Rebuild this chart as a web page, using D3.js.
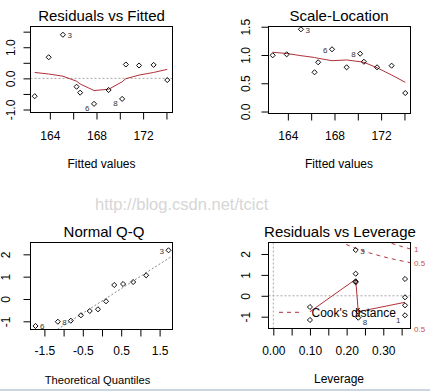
<!DOCTYPE html>
<html><head><meta charset="utf-8">
<script src="https://cdn.jsdelivr.net/npm/d3@7"></script>
<style>
body{margin:0;background:#fff}
svg{display:block}
text{font-family:"Liberation Sans",Arial,sans-serif}
</style>
</head><body>
<svg id="c" width="430" height="391"></svg>
<script>
// ---------- data ----------
const fitted        = [162.70, 163.90, 165.12, 166.29, 166.60, 167.79, 169.04, 170.20, 170.52, 171.65, 172.90, 174.07];
const residuals     = [-0.573, 0.678, 1.401, -0.268, -0.459, -0.818, -0.373, -0.659, 0.446, 0.414, 0.433, -0.054];
const residSmooth   = [0.19, 0.14, 0.07, -0.09, -0.18, -0.39, -0.35, -0.11, -0.01, 0.105, 0.19, 0.29];
const sqrtStdResid  = [0.995, 1.012, 1.455, 0.694, 0.871, 1.101, 0.782, 1.023, 0.881, 0.782, 0.811, 0.327];
const scaleSmooth   = [1.048, 1.027, 0.988, 0.956, 0.942, 0.899, 0.912, 0.881, 0.871, 0.775, 0.646, 0.517];
const fittedIds     = ["", "", "3", "", "", "6", "", "8", "", "", "", ""];

const theoQuantiles = [-1.732, -1.150, -0.812, -0.549, -0.319, -0.105, 0.105, 0.319, 0.549, 0.812, 1.150, 1.732];
const sortedStdRes  = [-1.209, -1.017, -0.972, -0.730, -0.537, -0.461, -0.103, 0.627, 0.672, 0.761, 1.061, 2.181];
const qqIds         = ["6", "8", "", "", "", "", "", "", "", "", "", "3"];
const qqLine        = {intercept: -0.087, slope: 1.10};

const leverage      = [0.100, 0.100, 0.2247, 0.2247, 0.2247, 0.2247, 0.2318, 0.2318, 0.3592, 0.3592, 0.3592, 0.3592];
const levStdResid   = [-0.536, -1.158, 2.191, 1.057, 0.646, 0.690, -0.761, -1.048, 0.804, -0.072, -0.455, -0.933];
const levIds        = ["", "", "3", "", "", "", "", "8", "", "", "", "1"];
const levSmoothX    = [0.100, 0.2247, 0.2318, 0.3592];
const levSmoothY    = [-0.761, 0.789, -0.761, -0.311];
const cookLevels    = [0.5, 1];
const nCoef         = 3;

const titles        = ["Residuals vs Fitted", "Scale-Location", "Normal Q-Q", "Residuals vs Leverage"];
const xTitles       = ["Fitted values", "Fitted values", "Theoretical Quantiles", "Leverage"];

const fittedTicks   = [164, 166, 168, 170, 172, 174];
const fittedLabels  = ["164", "", "168", "", "172", ""];
const residTicks    = [-1, -0.5, 0, 0.5, 1, 1.5];
const residLabels   = ["-1.0", "", "0.0", "", "1.0", ""];
const scaleTicks    = [0, 0.5, 1, 1.5];
const scaleLabels   = ["0.0", "0.5", "1.0", "1.5"];
const qqXTicks      = [-1.5, -1, -0.5, 0, 0.5, 1, 1.5];
const qqXLabels     = ["-1.5", "", "-0.5", "", "0.5", "", "1.5"];
const qqYTicks      = [-1, 0, 1, 2];
const qqYLabels     = ["-1", "0", "1", "2"];
const levXTicks     = [0, 0.05, 0.10, 0.15, 0.20, 0.25, 0.30, 0.35];
const levXLabels    = ["0.00", "", "0.10", "", "0.20", "", "0.30", ""];
const levYTicks     = [-1, 0, 1, 2];
const levYLabels    = ["-1", "0", "1", "2"];

// ---------- drawing ----------
const svg = d3.select("#c");
svg.append("rect").attr("width", 430).attr("height", 391).attr("fill", "#fff");
const RED = "#b03038";
const RED_TXT = "#d0504a";

function panel(cfg) {
  const b = cfg.box;
  const x = d3.scaleLinear().domain(cfg.xDomain).range([b.l, b.r]);
  const y = d3.scaleLinear().domain(cfg.yDomain).range([b.b, b.t]);
  const g = svg.append("g");
  svg.append("clipPath").attr("id", "cl" + cfg.name)
    .append("rect").attr("x", b.l).attr("y", b.t).attr("width", b.r - b.l).attr("height", b.b - b.t);
  const inner = g.append("g").attr("clip-path", `url(#cl${cfg.name})`);

  const xa = d3.axisBottom(x).tickValues(cfg.xTicks).tickFormat((d, i) => cfg.xLabels[i]).tickSize(7).tickSizeOuter(0);
  const gx = g.append("g").attr("transform", `translate(0,${b.b})`).call(xa);
  gx.select(".domain").remove();
  gx.attr("font-family", null).attr("font-size", null);
  gx.selectAll("line").attr("stroke", "#000");
  gx.selectAll("text").attr("y", cfg.xLabOff).attr("dy", 0).attr("fill", "#000").attr("font-size", 12);

  const ya = d3.axisLeft(y).tickValues(cfg.yTicks).tickFormat((d, i) => cfg.yLabels[i]).tickSize(7).tickSizeOuter(0);
  const gy = g.append("g").attr("transform", `translate(${b.l},0)`).call(ya);
  gy.select(".domain").remove();
  gy.attr("font-family", null).attr("font-size", null);
  gy.selectAll("line").attr("stroke", "#000");
  gy.selectAll("text").attr("transform", "rotate(-90)").attr("x", 0).attr("y", -cfg.yLabOff)
    .attr("dy", 0).attr("text-anchor", "middle").attr("fill", "#000").attr("font-size", 12);

  g.append("text").attr("x", cfg.titleX).attr("y", cfg.titleY).attr("text-anchor", "middle")
    .attr("font-size", 15).attr("fill", "#000").text(cfg.title);
  g.append("text").attr("x", cfg.xTitleX).attr("y", cfg.xTitleY).attr("text-anchor", "middle")
    .attr("font-size", cfg.xTitleSize || 12).attr("fill", "#000").text(cfg.xTitle);
  return {x, y, g, inner, b};
}

function frame(p) {
  p.g.append("rect").attr("x", p.b.l).attr("y", p.b.t).attr("width", p.b.r - p.b.l).attr("height", p.b.b - p.b.t)
    .attr("fill", "none").attr("stroke", "#000").attr("stroke-width", 1);
}

const diamond = d3.symbol().type(d3.symbolSquare).size(13);
function points(p, xs, ys) {
  p.g.append("g").selectAll("path").data(xs).join("path")
    .attr("d", diamond)
    .attr("transform", (d, i) => `translate(${p.x(d)},${p.y(ys[i])}) rotate(45)`)
    .attr("fill", "none").attr("stroke", "#000").attr("stroke-width", 0.9);
}

function idLabels(p, xs, ys, ids, sides, negShift) {
  ids.forEach((id, i) => {
    if (!id) return;
    const right = sides[id] === "R";
    const dy = (negShift && ys[i] < 0) ? 7.5 : 3.5;
    p.g.append("text").attr("x", p.x(xs[i]) + (right ? 4.5 : -4.5)).attr("y", p.y(ys[i]) + dy)
      .attr("text-anchor", right ? "start" : "end").attr("font-size", 8).attr("fill", "#333").text(id);
  });
}

function hline(p, v) {
  p.inner.append("line").attr("x1", p.b.l).attr("x2", p.b.r).attr("y1", p.y(v)).attr("y2", p.y(v))
    .attr("stroke", "#a8a8a8").attr("stroke-dasharray", "2,2");
}

// Panel 1
const p1 = panel({name: "a", box: {l: 30.5, r: 172.5, t: 26.5, b: 112.5},
  xDomain: [162.34, 174.52], yDomain: [-1.096, 1.666],
  xTicks: fittedTicks, xLabels: fittedLabels, yTicks: residTicks, yLabels: residLabels,
  xLabOff: 27.5, yLabOff: 15.7, title: titles[0], titleX: 101.5, titleY: 20.7,
  xTitle: xTitles[0], xTitleX: 101.5, xTitleY: 168});
hline(p1, 0);
p1.inner.append("path").datum(fitted).attr("fill", "none").attr("stroke", RED).attr("stroke-width", 1)
  .attr("d", d3.line().x(d => p1.x(d)).y((d, i) => p1.y(residSmooth[i])));
points(p1, fitted, residuals);
idLabels(p1, fitted, residuals, fittedIds, {"3": "R", "6": "L", "8": "L"}, true);
frame(p1);

// Panel 2
const p2 = panel({name: "b", box: {l: 268.5, r: 410.5, t: 26.5, b: 113.5},
  xDomain: [162.34, 174.52], yDomain: [-0.035, 1.504],
  xTicks: fittedTicks, xLabels: fittedLabels, yTicks: scaleTicks, yLabels: scaleLabels,
  xLabOff: 26.5, yLabOff: 18.5, title: titles[1], titleX: 339, titleY: 20.7,
  xTitle: xTitles[1], xTitleX: 339, xTitleY: 168});
p2.inner.append("path").datum(fitted).attr("fill", "none").attr("stroke", RED).attr("stroke-width", 1)
  .attr("d", d3.line().x(d => p2.x(d)).y((d, i) => p2.y(scaleSmooth[i])));
points(p2, fitted, sqrtStdResid);
idLabels(p2, fitted, sqrtStdResid, fittedIds, {"3": "R", "6": "L", "8": "L"}, false);
frame(p2);

// Panel 3
const p3 = panel({name: "c", box: {l: 30.5, r: 172.5, t: 242.5, b: 329.5},
  xDomain: [-1.862, 1.836], yDomain: [-1.366, 2.530],
  xTicks: qqXTicks, xLabels: qqXLabels, yTicks: qqYTicks, yLabels: qqYLabels,
  xLabOff: 25.5, yLabOff: 21, title: titles[2], titleX: 104, titleY: 236.7,
  xTitle: xTitles[2], xTitleX: 97.5, xTitleY: 383.5, xTitleSize: 11.2});
const qx = p3.x.domain();
p3.inner.append("line").attr("x1", p3.x(qx[0])).attr("x2", p3.x(qx[1]))
  .attr("y1", p3.y(qqLine.intercept + qqLine.slope * qx[0])).attr("y2", p3.y(qqLine.intercept + qqLine.slope * qx[1]))
  .attr("stroke", "#888").attr("stroke-dasharray", "2,2");
points(p3, theoQuantiles, sortedStdRes);
idLabels(p3, theoQuantiles, sortedStdRes, qqIds, {"6": "R", "8": "R", "3": "L"}, false);
frame(p3);

// Panel 4
const p4 = panel({name: "d", box: {l: 268.5, r: 410.5, t: 242.5, b: 328.5},
  xDomain: [-0.0131, 0.3742], yDomain: [-1.565, 2.550],
  xTicks: levXTicks, xLabels: levXLabels, yTicks: levYTicks, yLabels: levYLabels,
  xLabOff: 26.5, yLabOff: 18.3, title: titles[3], titleX: 340, titleY: 236.7,
  xTitle: xTitles[3], xTitleX: 339, xTitleY: 383});
hline(p4, 0);
p4.inner.append("line").attr("x1", p4.x(0)).attr("x2", p4.x(0)).attr("y1", p4.b.t).attr("y2", p4.b.b)
  .attr("stroke", "#a8a8a8").attr("stroke-dasharray", "2,2");
points(p4, leverage, levStdResid);
p4.inner.append("path").datum(levSmoothX).attr("fill", "none").attr("stroke", RED).attr("stroke-width", 1)
  .attr("d", d3.line().x(d => p4.x(d)).y((d, i) => p4.y(levSmoothY[i])));
// Cook's distance contours
const xmax = p4.x.domain()[1];
const h0 = Math.min(d3.min(leverage), d3.max(leverage) / 100);
const hh = d3.range(101).map(k => h0 + (xmax - h0) * k / 100);
cookLevels.forEach(c => {
  [1, -1].forEach(s => {
    p4.inner.append("path").datum(hh).attr("fill", "none").attr("stroke", RED).attr("stroke-width", 1)
      .attr("stroke-dasharray", "4,4")
      .attr("d", d3.line().x(d => p4.x(d)).y(d => p4.y(s * Math.sqrt(c * nCoef * (1 - d) / d))));
  });
});
const ymult = Math.sqrt(nCoef * (1 - xmax) / xmax);
const cookLabs = [];
cookLevels.forEach(c => { cookLabs.push({v: Math.sqrt(c) * ymult, t: String(c)}); cookLabs.push({v: -Math.sqrt(c) * ymult, t: String(c)}); });
cookLabs.filter(d => d.v >= p4.y.domain()[0] - 0.05 && d.v <= p4.y.domain()[1]).forEach(d => {
  p4.g.append("text").attr("x", p4.b.r + 3.5).attr("y", p4.y(d.v) + 3).attr("font-size", 8)
    .attr("fill", RED_TXT).text(d.t);
});
idLabels(p4, leverage, levStdResid, levIds, {"3": "R", "8": "R", "1": "L"}, true);
// legend
p4.g.append("line").attr("x1", 279).attr("x2", 303).attr("y1", 312.3).attr("y2", 312.3)
  .attr("stroke", RED).attr("stroke-dasharray", "4,4");
p4.g.append("text").attr("x", 311.5).attr("y", 316.6).attr("font-size", 12).attr("fill", "#000").text("Cook's distance");
frame(p4);

// watermark
svg.append("text").attr("x", 95).attr("y", 209.5).attr("font-family", "'Liberation Mono','DejaVu Sans Mono',monospace")
  .attr("font-size", 16.5).attr("fill", "#d6d6d6").text("http://blog.csdn.net/tcict");
svg.append("rect").attr("x", 0).attr("y", 389).attr("width", 430).attr("height", 2).attr("fill", "#ccd6e0");
</script>
</body></html>
